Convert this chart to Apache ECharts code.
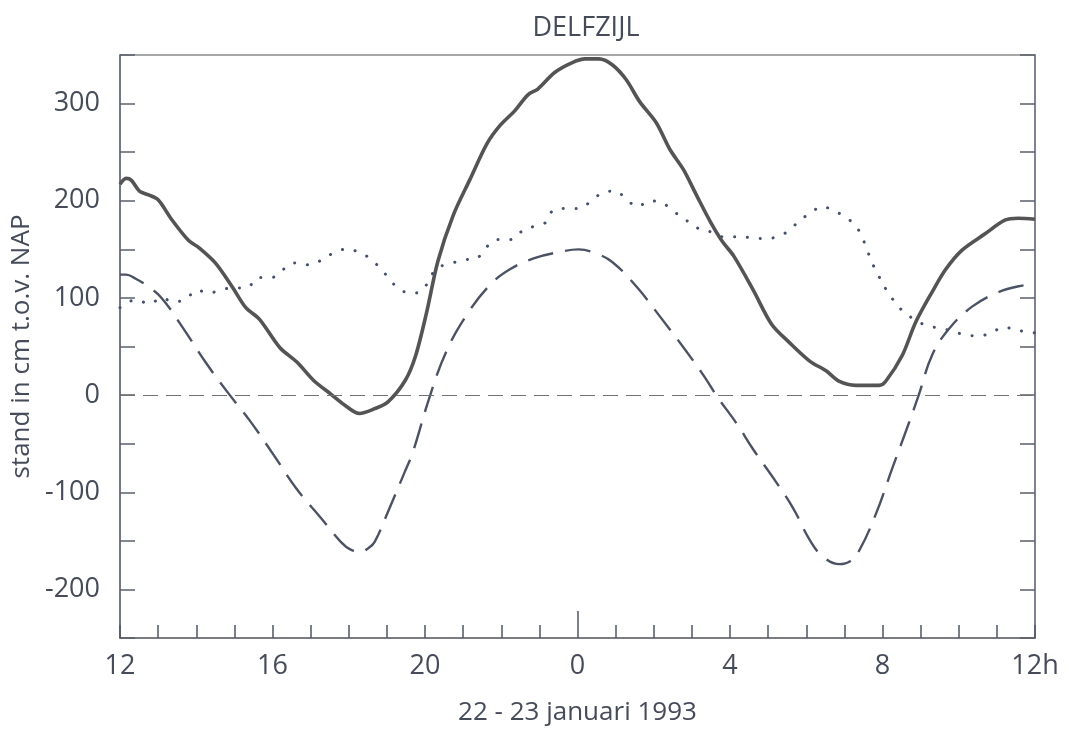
<!DOCTYPE html>
<html>
<head>
<meta charset="utf-8">
<title>Delfzijl 22-23 januari 1993</title>
<script src="https://cdn.jsdelivr.net/npm/echarts@6/dist/echarts.min.js"></script>
<style>
  html, body { margin: 0; padding: 0; background: #ffffff; }
  #chart { width: 1073px; height: 731px; }
</style>
</head>
<body>
<div id="chart"></div>
<script>
// Hours since 22 jan 00:00 (12 = 22 jan 12h, 36 = 23 jan 12h), level in cm t.o.v. NAP

// gemeten waterstand (dikke lijn)
const observed = [
  [12.0, 217], [12.16, 223], [12.3, 221], [12.51, 210], [12.75, 206], [13.0, 201],
  [13.35, 181], [13.8, 159], [14.06, 152], [14.5, 136], [14.95, 111], [15.3, 90],
  [15.66, 78], [16.19, 49], [16.64, 34], [17.08, 15], [17.53, 1], [17.88, -10],
  [18.28, -19], [18.68, -14], [19.03, -7], [19.48, 15], [19.75, 40], [20.03, 83],
  [20.34, 138], [20.74, 185], [21.18, 222], [21.63, 259], [21.98, 278], [22.34, 292],
  [22.7, 309], [22.96, 315], [23.4, 332], [23.85, 342], [24.2, 346], [24.56, 346],
  [24.91, 340], [25.27, 325], [25.63, 302], [26.07, 280], [26.42, 253], [26.78, 232],
  [27.13, 205], [27.49, 178], [27.8, 158], [28.1, 143], [28.61, 108], [29.09, 73],
  [29.56, 54], [30.09, 35], [30.52, 25], [30.87, 14], [31.3, 10], [31.91, 10],
  [32.08, 14], [32.52, 41], [32.87, 75], [33.3, 106], [33.65, 129], [34.08, 149],
  [34.69, 166], [35.21, 180], [35.56, 182], [36.0, 181]
];

// astronomisch getij (streeplijn)
const astronomical = [
  [12.0, 124], [12.16, 124], [12.4, 120], [12.73, 112], [13.09, 100], [13.62, 71],
  [14.24, 34], [14.86, 1], [15.4, -26], [16.02, -61], [16.64, -97], [17.26, -126],
  [17.79, -151], [18.05, -159], [18.32, -161], [18.5, -158], [18.68, -151], [19.03, -120],
  [19.48, -78], [19.68, -59], [20.12, -2], [20.56, 45], [21.1, 83], [21.72, 114],
  [22.25, 130], [22.87, 141], [23.49, 147], [24.03, 150], [24.47, 146], [24.91, 137],
  [25.54, 112], [26.16, 81], [26.78, 49], [27.31, 20], [27.67, -2], [28.17, -29],
  [28.61, -56], [29.13, -85], [29.65, -116], [30.09, -149], [30.43, -166], [30.87, -174],
  [31.15, -171], [31.39, -160], [31.83, -122], [32.26, -75], [32.69, -29], [32.95, 0],
  [33.3, 41], [33.74, 68], [34.35, 91], [35.04, 106], [35.57, 112], [36.0, 114]
];

// opzet (stippellijn)
const surge = [
  [12.0, 90], [12.42, 98], [12.78, 94], [13.09, 100], [13.4, 96], [13.73, 99],
  [14.02, 108], [14.33, 105], [14.69, 109], [15.0, 110], [15.35, 111], [15.62, 121],
  [15.97, 121], [16.27, 129], [16.55, 136], [16.9, 134], [17.24, 138], [17.54, 145],
  [17.91, 150], [18.28, 147], [18.57, 140], [18.84, 130], [19.08, 119], [19.32, 109],
  [19.66, 105], [19.9, 107], [20.3, 130], [20.65, 135], [21.0, 139], [21.36, 141],
  [21.58, 151], [21.9, 160], [22.25, 160], [22.52, 168], [22.88, 174], [23.18, 178],
  [23.36, 190], [23.72, 192], [24.03, 192], [24.34, 199], [24.65, 208], [24.99, 210],
  [25.27, 202], [25.58, 194], [25.89, 200], [26.25, 197], [26.56, 188], [26.85, 180],
  [27.14, 172], [27.49, 168], [27.8, 163], [28.22, 163], [28.57, 162], [28.89, 161],
  [29.24, 163], [29.57, 170], [29.83, 180], [30.11, 187], [30.41, 194], [30.71, 190],
  [31.03, 183], [31.3, 174], [31.48, 161], [31.61, 148], [31.74, 135], [31.91, 122],
  [32.09, 109], [32.28, 98], [32.52, 87], [32.83, 78], [33.13, 72], [33.48, 69],
  [33.83, 66], [34.16, 62], [34.52, 61], [34.85, 64], [35.18, 70], [35.5, 67],
  [36.0, 64]
];

// axis labels
const hourLabels = { 12: '12', 16: '16', 20: '20', 24: '0', 28: '4', 32: '8', 36: '12h' };
const levelLabels = [-200, -100, 0, 100, 200, 300];

const textColor = '#454b59';
const fontFamily = "'Open Sans', 'Noto Sans', sans-serif";

const chart = echarts.init(document.getElementById('chart'), null, { renderer: 'canvas' });

chart.setOption({
  animation: false,
  backgroundColor: '#ffffff',
  textStyle: { fontFamily: fontFamily, color: textColor },
  title: {
    text: 'DELFZIJL',
    left: 581,
    top: 10,
    textAlign: 'center',
    textStyle: { fontFamily: fontFamily, fontSize: 27, fontWeight: 'normal', color: textColor }
  },
  grid: {
    left: 120, right: 38, top: 55, bottom: 91,
    show: true, borderColor: '#8a8a8a', borderWidth: 1.3, backgroundColor: 'transparent'
  },
  xAxis: [
    {
      type: 'value', min: 12, max: 36, interval: 1,
      name: '22 - 23 januari 1993',
      nameLocation: 'middle', nameGap: 62,
      nameTextStyle: { fontFamily: fontFamily, fontSize: 26, color: textColor },
      axisLine: { show: true, onZero: false, lineStyle: { color: '#6d6f78', width: 1.5 } },
      axisTick: { show: true, inside: true, length: 13, lineStyle: { color: '#4f5668', width: 1.5 } },
      axisLabel: {
        show: true, margin: 15, fontFamily: fontFamily, fontSize: 27, color: textColor,
        formatter: v => hourLabels[v] !== undefined ? hourLabels[v] : ''
      },
      splitLine: { show: false }
    },
    {
      // longer tick at midnight
      type: 'value', min: 12, max: 36, position: 'bottom',
      axisLine: { show: false, onZero: false },
      axisTick: { show: true, inside: true, length: 27, customValues: [24], lineStyle: { color: '#4f5668', width: 1.5 } },
      axisLabel: { show: false },
      splitLine: { show: false }
    }
  ],
  yAxis: [
    {
      type: 'value', min: -250, max: 350, interval: 50,
      name: 'stand in cm t.o.v. NAP',
      nameLocation: 'middle', nameGap: 79, nameRotate: 90,
      nameTextStyle: { fontFamily: fontFamily, fontSize: 26, color: textColor },
      axisLine: { show: true, onZero: false, lineStyle: { color: '#5d6577', width: 1.5 } },
      axisTick: { show: true, inside: true, length: 15, lineStyle: { color: '#5a5f6b', width: 1.5 } },
      axisLabel: {
        show: true, margin: 20, fontFamily: fontFamily, fontSize: 27, color: textColor,
        formatter: v => levelLabels.indexOf(v) >= 0 ? String(v) : ''
      },
      splitLine: { show: false }
    },
    {
      type: 'value', min: -250, max: 350, interval: 50, position: 'right',
      axisLine: { show: true, onZero: false, lineStyle: { color: '#6b7386', width: 1.5 } },
      axisTick: { show: true, inside: true, length: 15, lineStyle: { color: '#5a5f6b', width: 1.5 } },
      axisLabel: { show: false },
      splitLine: { show: false }
    }
  ],
  series: [
    {
      name: 'opzet',
      type: 'line',
      data: surge,
      showSymbol: false,
      smooth: 0.4,
      lineStyle: { color: '#44506c', width: 3, type: [0.1, 12.8], cap: 'round' },
      z: 2
    },
    {
      name: 'astronomisch getij',
      type: 'line',
      data: astronomical,
      showSymbol: false,
      smooth: 0.4,
      lineStyle: { color: '#4b5263', width: 2.4, type: [26, 12] },
      markLine: {
        silent: true,
        symbol: ['none', 'none'],
        label: { show: false },
        lineStyle: { color: '#727272', width: 1.1, type: [15, 8] },
        data: [{ yAxis: 0 }]
      },
      z: 3
    },
    {
      name: 'waterstand',
      type: 'line',
      data: observed,
      showSymbol: false,
      smooth: 0.3,
      lineStyle: { color: '#545454', width: 3.6 },
      z: 4
    }
  ]
});
</script>
</body>
</html>
